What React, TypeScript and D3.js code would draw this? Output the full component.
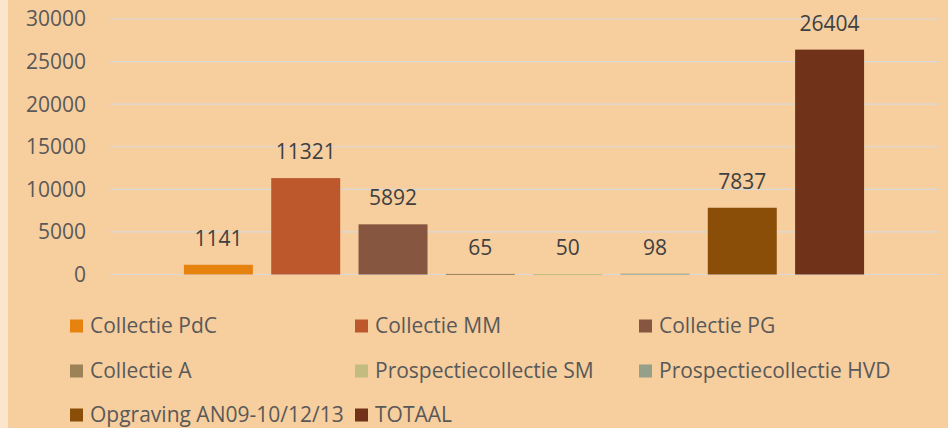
import React from 'react';
import * as d3 from 'd3';

const series = [
  'Collectie PdC',
  'Collectie MM',
  'Collectie PG',
  'Collectie A',
  'Prospectiecollectie SM',
  'Prospectiecollectie HVD',
  'Opgraving AN09-10/12/13',
  'TOTAAL',
];
const values = [1141, 11321, 5892, 65, 50, 98, 7837, 26404];
const colors = ['#E6820E', '#BD582C', '#865640', '#9B8357', '#C2BC80', '#94A088', '#8B4E09', '#70331A'];
const yTicks = [0, 5000, 10000, 15000, 20000, 25000, 30000];

const W = 948;
const H = 428;
const font = '"Open Sans", sans-serif';

const App = () => {
  const x = d3.scaleBand<string>().domain(series).range([109, 939]).paddingInner(0.21).paddingOuter(0.858);
  const y = d3.scaleLinear().domain([0, 30000]).range([274.5, 19]);

  // legend: 3 columns
  const legX = [70, 355, 639];
  const legY = [326, 371, 415];

  return (
    <svg width={W} height={H} style={{ position: 'absolute', left: 0, top: 0 }} fontFamily={font}>
      <rect width={W} height={H} fill="#F7CE9E" />
      <rect width={8} height={H} fill="#FBE5CD" />
      {yTicks.map((t) => (
        <g key={t}>
          <line x1={109} x2={939} y1={y(t)} y2={y(t)} stroke="#D9D9D9" strokeWidth={1.2} />
          <text x={86} y={y(t)} dy="0.35em" textAnchor="end" fontSize={21} fill="#595959">
            {t}
          </text>
        </g>
      ))}
      {series.map((s, i) => (
        <g key={s}>
          <rect
            x={x(s)}
            y={y(values[i])}
            width={x.bandwidth()}
            height={Math.max(1, y(0) - y(values[i]))}
            fill={colors[i]}
          />
          <text
            x={(x(s) as number) + x.bandwidth() / 2}
            y={y(values[i]) - 19}
            textAnchor="middle"
            fontSize={21}
            fill="#404040"
          >
            {values[i]}
          </text>
        </g>
      ))}
      {series.map((s, i) => {
        const lx = legX[i % 3];
        const ly = legY[Math.floor(i / 3)];
        return (
          <g key={'l' + s}>
            <rect x={lx} y={ly - 6.5} width={13} height={13} fill={colors[i]} />
            <text x={lx + 20} y={ly} dy="0.35em" fontSize={21} fill="#595959">
              {s}
            </text>
          </g>
        );
      })}
    </svg>
  );
};

export default App;
